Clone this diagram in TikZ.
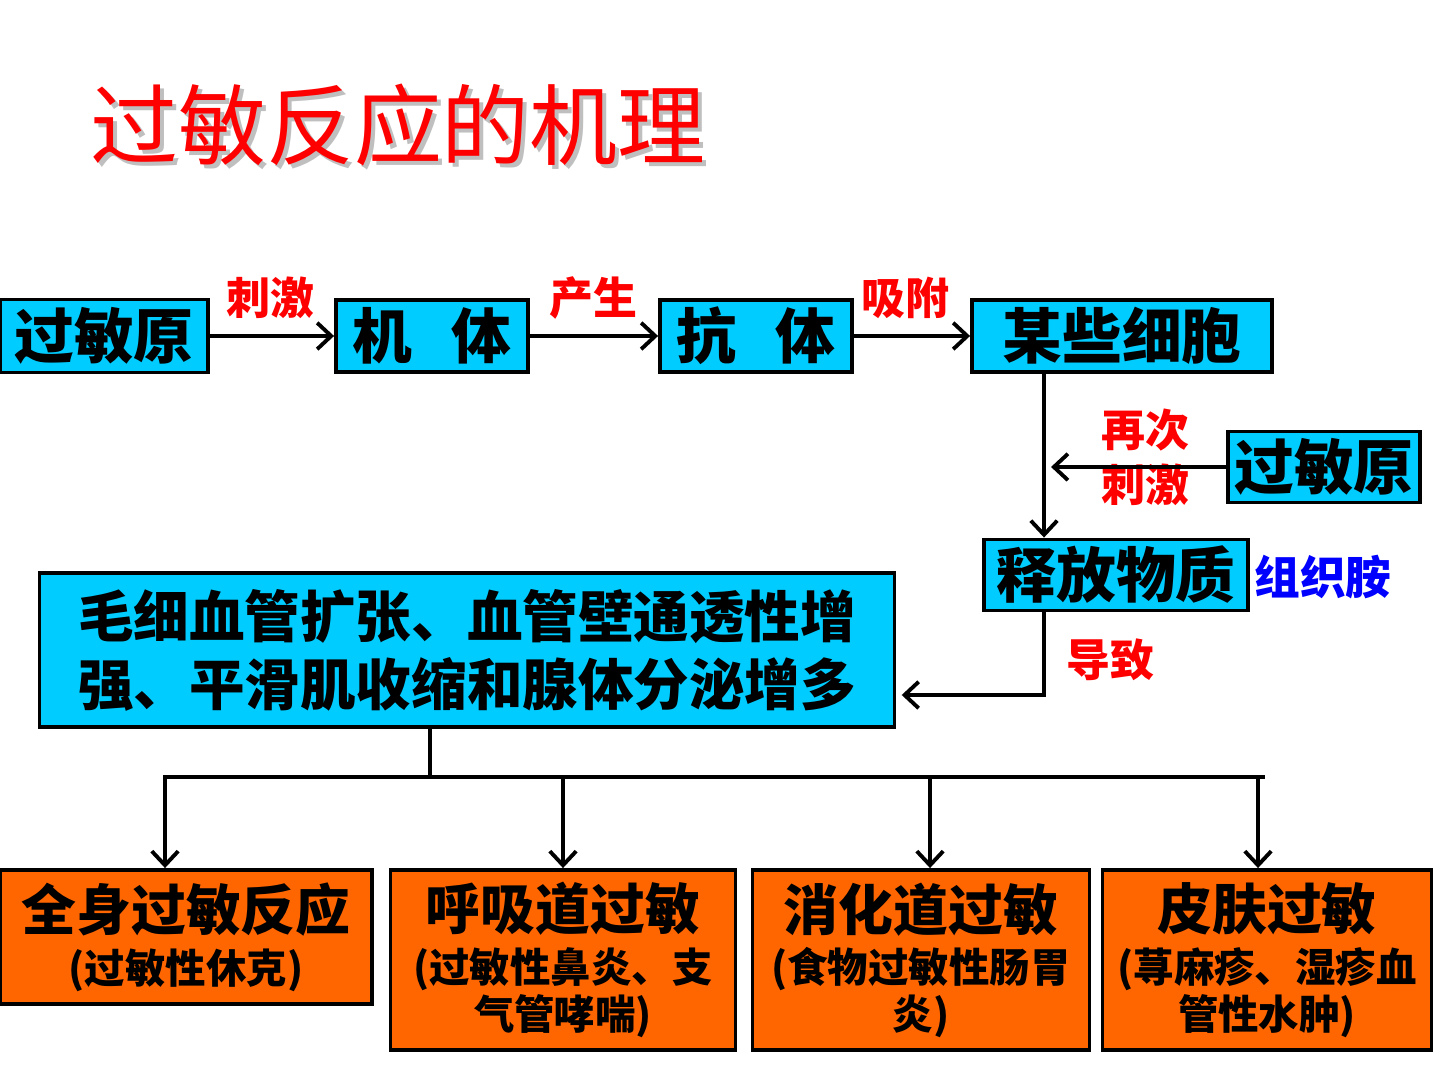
\documentclass[tikz,border=0pt]{standalone}
\usepackage{fontspec}
\setmainfont{Noto Sans CJK SC}
\usetikzlibrary{arrows.meta,calc}
\definecolor{boxblue}{RGB}{0,204,255}
\definecolor{boxorange}{RGB}{255,102,0}
\def\unitpx{0.01cm}
\newcommand{\oboxhead}{\bfseries\fontsize{15.6pt}{18pt}\selectfont}
\newcommand{\oboxsub}{\bfseries\fontsize{11.5pt}{14.2pt}\selectfont}

\begin{document}
\begin{tikzpicture}[x=0.01cm,y=-0.01cm,
  box/.style={draw,line width=1.1pt,fill=boxblue,inner sep=0pt,
    font=\bfseries\fontsize{17pt}{20pt}\selectfont},
  obox/.style={draw,line width=1.1pt,fill=boxorange,inner sep=0pt,align=center},
  lbl/.style={text=red,inner sep=0pt,font=\bfseries\fontsize{12.5pt}{15.5pt}\selectfont},
  arr/.style={line width=1.1pt,-{Straight Barb[length=4pt,width=7.5pt]}}]
\useasboundingbox (0,0) rectangle (1440,1080);

% title
\node[text=black!25,font=\fontsize{25pt}{30pt}\selectfont] at (402,129) {过敏反应的机理};
\node (title) [text=red,font=\fontsize{25pt}{30pt}\selectfont] at (398,125) {过敏反应的机理};

% top row
\node (src) [box,minimum width=208*\unitpx,minimum height=73*\unitpx] at (104,336) {过敏原};
\node (body) [box,minimum width=192*\unitpx,minimum height=72*\unitpx] at (432,336) {机\hspace{0.65em}体};
\node (ab) [box,minimum width=192*\unitpx,minimum height=72*\unitpx] at (756,336) {抗\hspace{0.65em}体};
\node (cells) [box,minimum width=300*\unitpx,minimum height=72*\unitpx] at (1122,336) {某些细胞};

\node (src2) [box,minimum width=192*\unitpx,minimum height=71*\unitpx] at (1324,467) {过敏原};
\node (rel) [box,minimum width=264*\unitpx,minimum height=71*\unitpx] at (1116,575) {释放物质};
\node (hist) [text=blue,inner sep=0pt,font=\bfseries\fontsize{13pt}{15pt}\selectfont] at (1323,577) {组织胺};

\node (effect) [box,minimum width=855*\unitpx,minimum height=154*\unitpx,align=center,
  font=\bfseries\fontsize{15.8pt}{19.3pt}\selectfont] at (467,650)
  {毛细血管扩张、血管壁通透性增\\强、平滑肌收缩和腺体分泌增多};

% bottom row
\node (o1) [obox,minimum width=372*\unitpx,minimum height=134*\unitpx] at (186,937)
  {\oboxhead 全身过敏反应\\[3pt] \oboxsub (过敏性休克)};
\node (o2) [obox,minimum width=345*\unitpx,minimum height=180*\unitpx] at (563,960)
  {\oboxhead 呼吸道过敏\\[3pt] \oboxsub (过敏性鼻炎、支\\ \oboxsub 气管哮喘)};
\node (o3) [obox,minimum width=337*\unitpx,minimum height=180*\unitpx] at (921,960)
  {\oboxhead 消化道过敏\\[3pt] \oboxsub (食物过敏性肠胃\\ \oboxsub 炎)};
\node (o4) [obox,minimum width=329*\unitpx,minimum height=180*\unitpx] at (1267,960)
  {\oboxhead 皮肤过敏\\[3pt] \oboxsub (荨麻疹、湿疹血\\ \oboxsub 管性水肿)};

% labels
\node (l1) [lbl] at (270,298) {刺激};
\node (l2) [lbl] at (593,298) {产生};
\node (l3) [lbl] at (905,298) {吸附};
\node (l4) [lbl] at (1145,430) {再次};
\node (l5) [lbl] at (1145,485) {刺激};
\node (l6) [lbl] at (1110,660) {导致};

\coordinate (trunk) at (1044,372);
\coordinate (turn) at (1044,695);
\coordinate (stem) at (430,727);
\coordinate (bus) at (430,777);

% connectors
\draw[arr] (src) -- (body);
\draw[arr] (body) -- (ab);
\draw[arr] (ab) -- (cells);
\draw[arr] (trunk |- cells.south) -- (trunk |- rel.north);
\draw[arr,shorten >=2pt] (src2.west) -- (trunk |- src2.west);
\draw[arr,shorten >=1.5pt] (trunk |- rel.south) -- (turn) -- (turn -| effect.east);

\draw[line width=1.1pt] (stem |- effect.south) -- (bus);
\draw[line width=1.1pt] (163,777) -- (1265,777);
\foreach \x/\n in {165/o1,563/o2,930/o3,1258/o4}
  \draw[arr] (\x,777) -- (\x,777 |- \n.north);

\end{tikzpicture}
\end{document}
